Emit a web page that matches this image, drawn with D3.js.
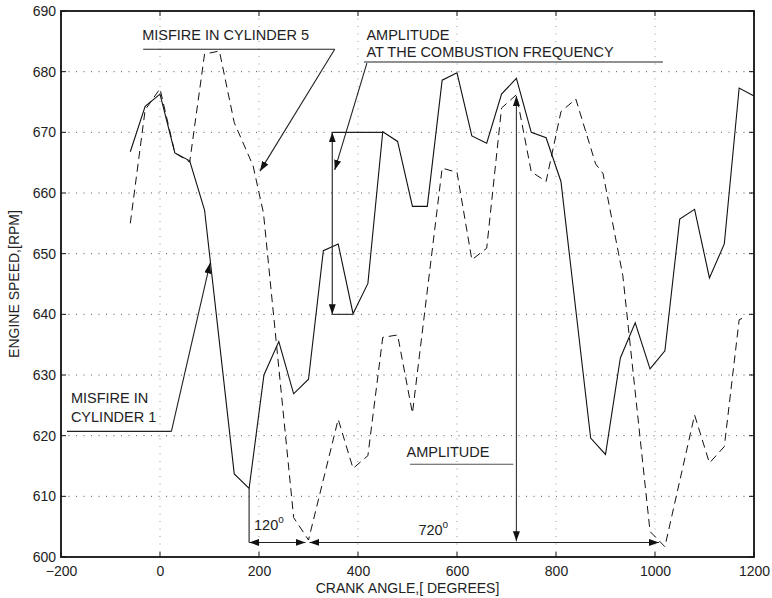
<!DOCTYPE html>
<html>
<head>
<meta charset="utf-8">
<script src="https://cdn.jsdelivr.net/npm/d3@7"></script>
<style>
  html, body { margin: 0; padding: 0; background: #fff; }
  svg { display: block; }
  text { font-family: "Liberation Sans", Arial, Helvetica, sans-serif; fill: #222; }
</style>
</head>
<body>
<svg id="chart" width="772" height="598"></svg>
<script>
// ---- data ----
const solidAngle = [-60,-30,0,30,60,90,150,180,210,240,270,300,330,360,390,420,450,480,510,540,570,600,630,660,690,720,750,780,810,870,900,930,960,990,1020,1050,1080,1110,1140,1170,1200];
const solidSpeed = [666.8,674.3,676.3,666.6,665.3,657.2,613.7,611.3,630.0,635.5,626.9,629.3,650.5,651.6,640.1,645.1,670.1,668.5,657.8,657.8,678.6,679.8,669.4,668.2,676.3,678.9,670.0,669.1,661.9,619.6,616.9,632.8,638.6,631.0,634.0,655.7,657.3,646.0,651.6,677.3,676.0];

const dashAngle = [-60,-30,0,30,60,90,120,150,188,209,270,300,360,390,420,450,480,510,570,600,630,660,690,720,750,780,810,840,880,895,935,990,1020,1080,1110,1140,1170,1180];
const dashSpeed = [655.0,673.7,677.2,666.6,665.1,682.9,683.4,671.6,664.5,656.7,606.5,602.8,622.7,614.6,616.7,636.2,636.6,623.7,664.1,663.4,649.0,650.9,674.0,676.2,663.5,661.9,673.4,675.5,664.8,663.2,646.4,604.2,601.7,623.4,615.5,618.2,639.1,639.5];

const xTicks = [-200,0,200,400,600,800,1000,1200];
const yTicks = [600,610,620,630,640,650,660,670,680,690];
const xTitle = "CRANK ANGLE,[ DEGREES]";
const yTitle = "ENGINE SPEED,[RPM]";

// ---- layout ----
const svg = d3.select("#chart");
const L = 61, R = 754, T = 11, B = 557;
const x = d3.scaleLinear().domain([-200,1200]).range([L,R]);
const y = d3.scaleLinear().domain([600,690]).range([B,T]);

// arrow marker
const defs = svg.append("defs");
defs.append("marker").attr("id","ah")
  .attr("viewBox","0 0 10 7").attr("refX",10).attr("refY",3.5)
  .attr("markerWidth",10).attr("markerHeight",7)
  .attr("markerUnits","userSpaceOnUse").attr("orient","auto-start-reverse")
  .append("path").attr("d","M0,0 L10,3.5 L0,7 Z").attr("fill","#111");

// grid
const g = svg.append("g");
g.selectAll(".hg").data(yTicks.slice(1,-1)).join("line")
  .attr("x1",L).attr("x2",R).attr("y1",d=>y(d)).attr("y2",d=>y(d))
  .attr("stroke","#555").attr("stroke-width",1).attr("stroke-dasharray","1,6.5");
g.selectAll(".vg").data(xTicks.slice(1,-1)).join("line")
  .attr("y1",T).attr("y2",B).attr("x1",d=>x(d)).attr("x2",d=>x(d))
  .attr("stroke","#999").attr("stroke-width",1).attr("stroke-dasharray","1,6.5");

// axes (ticks inward on all sides)
const tk = 5;
const axB = d3.axisBottom(x).tickValues(xTicks).tickSize(0).tickPadding(9)
  .tickFormat(d => d < 0 ? "\u2212" + Math.abs(d) : d);
const axL = d3.axisLeft(y).tickValues(yTicks).tickSize(0).tickPadding(5);
const gb = svg.append("g").attr("transform",`translate(0,${B})`).call(axB);
const gl = svg.append("g").attr("transform",`translate(${L},0)`).call(axL);
[gb,gl].forEach(a => {
  a.select(".domain").remove();
  a.selectAll("text").attr("font-size",14).attr("fill","#222")
   .attr("font-family","Liberation Sans, Arial, sans-serif");
});
// inward tick marks
const tg = svg.append("g").attr("stroke","#111").attr("stroke-width",1);
xTicks.forEach(v => {
  tg.append("line").attr("x1",x(v)).attr("x2",x(v)).attr("y1",B).attr("y2",B-tk);
  tg.append("line").attr("x1",x(v)).attr("x2",x(v)).attr("y1",T).attr("y2",T+tk);
});
yTicks.forEach(v => {
  tg.append("line").attr("y1",y(v)).attr("y2",y(v)).attr("x1",L).attr("x2",L+tk);
  tg.append("line").attr("y1",y(v)).attr("y2",y(v)).attr("x1",R).attr("x2",R-tk);
});

// data lines
const solid = solidAngle.map((a,i)=>[a,solidSpeed[i]]);
const dashed = dashAngle.map((a,i)=>[a,dashSpeed[i]]);
const line = d3.line().x(d=>x(d[0])).y(d=>y(d[1]));
svg.append("path").datum(dashed).attr("d",line).attr("fill","none")
  .attr("stroke","#111").attr("stroke-width",1).attr("stroke-dasharray","8,5");
svg.append("path").datum(solid).attr("d",line).attr("fill","none")
  .attr("stroke","#111").attr("stroke-width",1.1);

// frame
svg.append("rect").attr("x",L).attr("y",T).attr("width",R-L).attr("height",B-T)
  .attr("fill","none").attr("stroke","#111").attr("stroke-width",1.8);

// ---- annotations (data coordinates) ----
const ann = svg.append("g");
function seg(x1,y1,x2,y2,opts={}) {
  const l = ann.append("line").attr("x1",x(x1)).attr("y1",y(y1)).attr("x2",x(x2)).attr("y2",y(y2))
    .attr("stroke", opts.color || "#222").attr("stroke-width", opts.w || 1.1);
  if (opts.end) l.attr("marker-end","url(#ah)");
  if (opts.start) l.attr("marker-start","url(#ah)");
  return l;
}
function label(txt, xv, yv, size=14.5) {
  return ann.append("text").attr("x",x(xv)).attr("y",y(yv)).attr("font-size",size).text(txt);
}

// Misfire in cylinder 5
label("MISFIRE IN CYLINDER 5", -36, 685.2);
seg(-34, 683.7, 353, 683.7);
seg(353, 683.7, 202, 663.6, {end:true});

// Amplitude at the combustion frequency
label("AMPLITUDE", 417, 685.3);
label("AT THE COMBUSTION FREQUENCY", 417, 682.4);
seg(412, 681.6, 1016, 681.6);
seg(418, 681.4, 353, 663.8, {end:true});
seg(348, 670, 348, 640, {end:true, start:true});
seg(348, 670, 450, 670);
seg(348, 640, 390, 640);

// Misfire in cylinder 1
label("MISFIRE IN", -180, 625.4);
label("CYLINDER 1", -180, 622.3);
seg(-188, 620.7, 23, 620.7);
seg(23, 620.7, 101, 648.4, {end:true});

// 120 deg and 720 deg spans
seg(180, 611.3, 180, 602.4);
seg(180, 602.4, 294, 602.4, {start:true, end:true});
seg(302, 602.4, 1008, 602.4, {start:true, end:true});
const t120 = label("120", 190, 604.4);
t120.append("tspan").attr("font-size",10).attr("dy",-7).text("o");
const t720 = label("720", 522, 603.7);
t720.append("tspan").attr("font-size",10).attr("dy",-7).text("o");

// Amplitude
seg(720, 676.0, 720, 602.6, {start:true, end:true, color:"#333"});
label("AMPLITUDE", 498, 616.5);
seg(505, 615.3, 714, 615.3, {color:"#555"});

// axis titles
svg.append("text").attr("x",(L+R)/2).attr("y",593).attr("text-anchor","middle")
  .attr("font-size",14).text(xTitle);
svg.append("text").attr("transform",`translate(19,${(T+B)/2}) rotate(-90)`)
  .attr("text-anchor","middle").attr("font-size",14).text(yTitle);
</script>
</body>
</html>
